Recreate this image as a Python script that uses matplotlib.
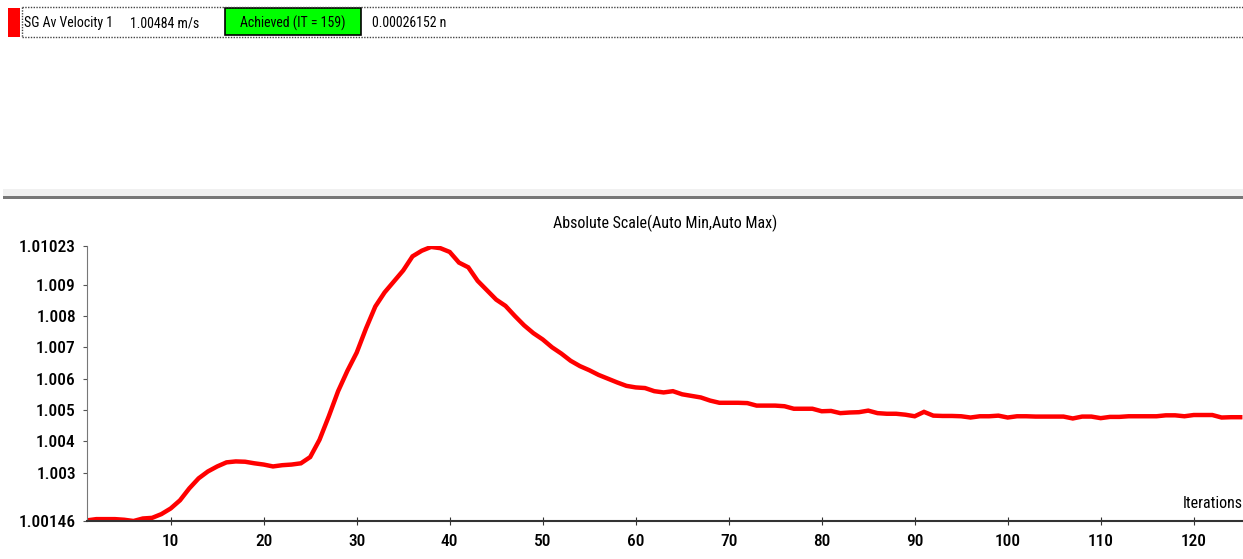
import matplotlib.pyplot as plt
from matplotlib import font_manager
from matplotlib.patches import Rectangle

# SG average velocity monitor, one value per iteration
iterations = list(range(1, 126))
velocity = [
    1.00148, 1.00152, 1.00152, 1.00152, 1.00150, 1.00146, 1.00154, 1.00156, 1.00168, 1.00186,
    1.00212, 1.00250, 1.00282, 1.00304, 1.00320, 1.00333, 1.00336, 1.00335, 1.00330, 1.00326,
    1.00320, 1.00324, 1.00326, 1.00330, 1.00350, 1.00405, 1.00480, 1.00560, 1.00625, 1.00683,
    1.00760, 1.00830, 1.00875, 1.00910, 1.00945, 1.00990, 1.01008, 1.01020, 1.01016, 1.01004,
    1.00970, 1.00955, 1.00912, 1.00882, 1.00852, 1.00832, 1.00800, 1.00770, 1.00745, 1.00725,
    1.00700, 1.00680, 1.00657, 1.00640, 1.00627, 1.00612, 1.00600, 1.00588, 1.00577, 1.00572,
    1.00570, 1.00560, 1.00556, 1.00560, 1.00550, 1.00545, 1.00540, 1.00530, 1.00523, 1.00523,
    1.00523, 1.00522, 1.00514, 1.00514, 1.00514, 1.00512, 1.00504, 1.00504, 1.00504, 1.00496,
    1.00497, 1.00490, 1.00492, 1.00493, 1.00498, 1.00490, 1.00488, 1.00488, 1.00485, 1.00480,
    1.00494, 1.00482, 1.00481, 1.00481, 1.00480, 1.00476, 1.00480, 1.00480, 1.00482, 1.00476,
    1.00480, 1.00480, 1.00479, 1.00479, 1.00479, 1.00479, 1.00473, 1.00479, 1.00479, 1.00474,
    1.00478, 1.00478, 1.00480, 1.00480, 1.00480, 1.00480, 1.00483, 1.00483, 1.00480, 1.00484,
    1.00484, 1.00484, 1.00476, 1.00477, 1.00477,
]

y_ticks = [1.00146, 1.003, 1.004, 1.005, 1.006, 1.007, 1.008, 1.009, 1.01023]
y_tick_labels = ['1.00146', '1.003', '1.004', '1.005', '1.006', '1.007', '1.008', '1.009', '1.01023']
x_ticks = [10, 20, 30, 40, 50, 60, 70, 80, 90, 100, 110, 120]

monitor_name = 'SG Av Velocity 1'
monitor_value = '1.00484 m/s'
monitor_status = 'Achieved (IT = 159)'
monitor_residual = '0.00026152 n'

# pick a condensed face if one is on the system
names = {f.name for f in font_manager.fontManager.ttflist}
condensed = [n for n in ['Roboto Condensed', 'DejaVu Sans Condensed', 'Liberation Sans Narrow']
             if n in names]
if condensed:
    plt.rcParams['font.family'] = [condensed[0], 'DejaVu Sans']
    big, small = 12.5, 10
else:
    plt.rcParams['font.family'] = ['Liberation Sans', 'DejaVu Sans']
    big, small = 11, 8.5

W, H = 1243, 559
fig = plt.figure(figsize=(W / 100, H / 100), dpi=100)

# header strip and panel separator, drawn in pixel units
top = fig.add_axes([0, 0, 1, 1])
top.set_xlim(0, W)
top.set_ylim(H, 0)
top.axis('off')
top.add_patch(Rectangle((8, 8), 12, 29, color='#ff0000', lw=0))
top.plot([22, W], [7, 7], ls=(0, (1, 1)), color='#444444', lw=1)
top.plot([22, W], [37, 37], ls=(0, (1, 1)), color='#444444', lw=1)
top.plot([22, 22], [7, 37], ls=(0, (1, 1)), color='#444444', lw=1)
top.add_patch(Rectangle((225, 8), 136, 27, facecolor='#00ff00', edgecolor='black', lw=1.2))
top.text(24, 23, monitor_name, fontsize=small, va='center', ha='left')
top.text(130, 23, monitor_value, fontsize=small, va='center', ha='left')
top.text(293, 23, monitor_status, fontsize=small, va='center', ha='center')
top.text(372, 23, monitor_residual, fontsize=small, va='center', ha='left')
top.add_patch(Rectangle((3, 189), W, 8, color='#f0f0f0', lw=0))
top.add_patch(Rectangle((3, 196), W, 3, color='#777777', lw=0))

ax = fig.add_axes([87 / W, 1 - 521 / H, 1 - 87 / W, (521 - 246) / H])
ax.plot(iterations, velocity, color='#ff0000', lw=3.2, solid_joinstyle='miter')
ax.set_xlim(1, 125.3)
ax.set_ylim(1.00146, 1.01023)
ax.set_yticks(y_ticks)
ax.set_yticklabels(y_tick_labels)
ax.set_xticks(x_ticks)
ax.tick_params(axis='y', direction='out', length=3, labelsize=big, pad=5, color='#555555')
ax.tick_params(axis='x', direction='inout', length=6, labelsize=big, pad=6, color='#333333')
for lab in ax.get_xticklabels() + ax.get_yticklabels():
    lab.set_fontweight('medium')
ax.spines['top'].set_visible(False)
ax.spines['right'].set_visible(False)
ax.spines['left'].set_color('#777777')
ax.spines['bottom'].set_color('#333333')
ax.spines['bottom'].set_linewidth(1.5)
ax.set_title('Absolute Scale(Auto Min,Auto Max)', fontsize=11.5, pad=13)
ax.text(1.0, 0.035, 'Iterations', transform=ax.transAxes, ha='right', va='bottom', fontsize=11.5)

fig.savefig('out.png', dpi=100)
